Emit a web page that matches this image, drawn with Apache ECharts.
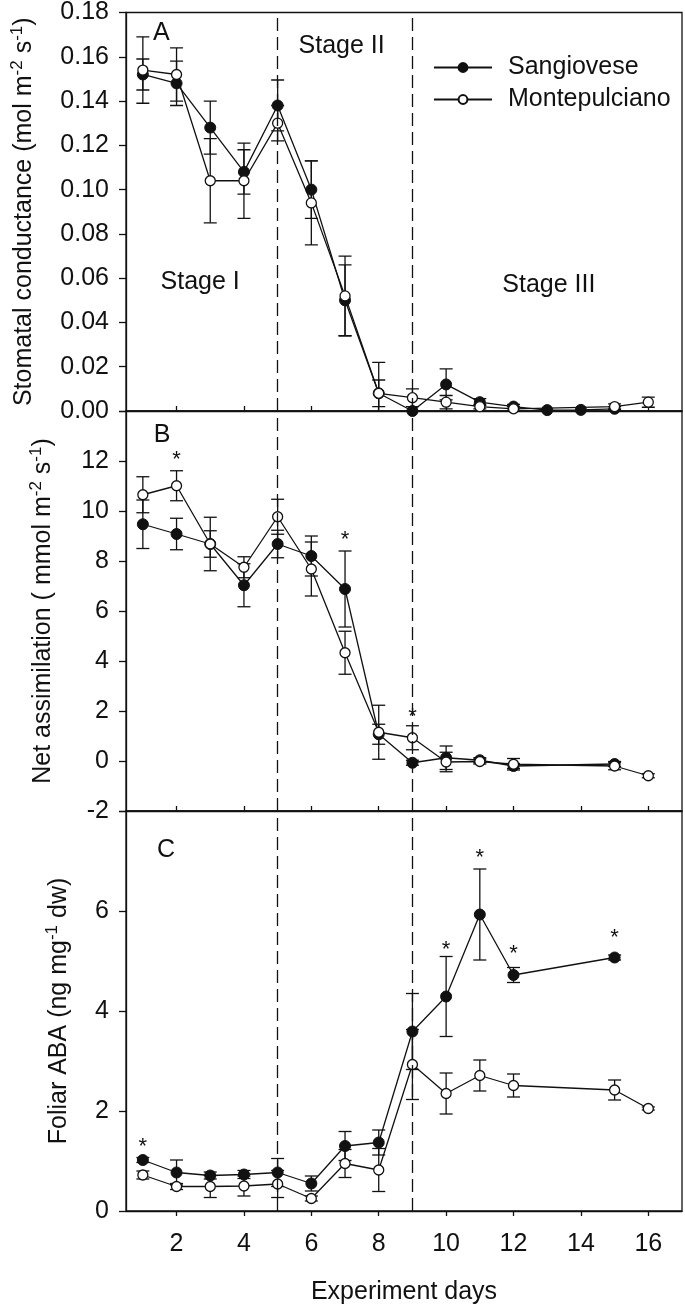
<!DOCTYPE html>
<html><head><meta charset="utf-8">
<script src="https://cdn.jsdelivr.net/npm/echarts@6/dist/echarts.min.js"></script>
<style>html,body{margin:0;padding:0;background:#fff}#c{width:685px;height:1313px}</style>
</head><body><div id="c"></div>
<script>
// ---------- data ----------
const days = [1,2,3,4,5,6,7,8,9,10,11,12,13,14,15,16];
const xTicks = [2,4,6,8,10,12,14,16];
const stageDays = [5, 9];

// Panel A: stomatal conductance (mol m-2 s-1)
const sangA   = [0.152,0.148,0.128,0.108,0.138,0.100,0.050,0.008,0.000,0.012,0.004,0.002,0.0004,0.0005,0.001,null];
const sangAse = [0.007,0.010,0.012,0.010,0.0115,0.013,0.016,0.006,0.000,0.007,0.0016,0.001,0,0,0.001,null];
const montA   = [0.154,0.152,0.104,0.104,0.130,0.094,0.052,0.008,0.006,0.004,0.002,0.001,null,null,0.002,0.004];
const montAse = [0.015,0.012,0.019,0.017,0.008,0.019,0.018,0.014,0.004,0.003,0.001,0.001,null,null,0.0012,0.0023];

// Panel B: net assimilation (mmol m-2 s-1)
const sangB   = [9.47,9.08,8.68,7.03,8.68,8.20,6.88,1.07,-0.07,0.13,0.03,-0.20,null,null,-0.12,null];
const sangBse = [0.97,0.63,0.53,0.86,0.55,0.80,1.52,0.40,0.10,0.47,0.10,0.10,null,null,0.10,null];
const montB   = [10.65,11.01,8.68,7.75,9.77,7.68,4.33,1.15,0.93,-0.04,-0.02,-0.13,null,null,-0.20,-0.59];
const montBse = [0.72,0.60,1.07,0.42,0.70,1.08,0.86,1.08,0.48,0.39,0.10,0.23,null,null,0.15,0.08];

// Panel C: foliar ABA (ng mg-1 dw)
const sangC   = [1.02,0.77,0.71,0.73,0.77,0.55,1.30,1.37,3.59,4.29,5.93,4.72,null,null,5.07,null];
const sangCse = [0.05,0.25,0.07,0.08,0.28,0.15,0.29,0.25,0.76,0.80,0.91,0.15,null,null,0.05,null];
const montC   = [0.72,0.49,0.49,0.50,0.54,0.25,0.95,0.82,2.93,2.35,2.71,2.51,null,null,2.42,2.05];
const montCse = [0.08,0.06,0.22,0.20,0.27,0.05,0.28,0.43,0.70,0.41,0.31,0.23,null,null,0.20,0.03];

// significance stars (day, value where the star sits)
const starsB = [[2,12.24],[7,9.04],[9,1.95]];
const starsC = [[1,1.38],[10,5.32],[11,7.17],[12,5.25],[15,5.57]];

// text annotations (day, value, text)
const notesA = [[2.7,0.058,'Stage I'],[6.9,0.1647,'Stage II'],[13.05,0.0567,'Stage III'],[1.55,0.1706,'A']];
const notesB = [[1.57,13.04,'B']];
const notesC = [[1.69,7.22,'C']];

// ---------- styling ----------
const FONT = '"Liberation Sans", Arial, Helvetica, sans-serif';
const INK = '#111';
const FS = 25;

function pts(vals){ const out=[]; days.forEach((d,i)=>{ if(vals[i]!=null) out.push([d, vals[i]]); }); return out; }
function errs(vals, se){ const out=[]; days.forEach((d,i)=>{ if(vals[i]!=null && se[i]) out.push([d, vals[i]-se[i], vals[i]+se[i]]); }); return out; }

function renderErr(params, api){
  const x = api.value(0), lo = api.value(1), hi = api.value(2);
  const a = api.coord([x, lo]), b = api.coord([x, hi]);
  const hw = 6.5;
  const style = {stroke: INK, lineWidth: 1.3, fill: null};
  return {type:'group', children:[
    {type:'line', shape:{x1:a[0], y1:a[1], x2:b[0], y2:b[1]}, style},
    {type:'line', shape:{x1:a[0]-hw, y1:a[1], x2:a[0]+hw, y2:a[1]}, style},
    {type:'line', shape:{x1:b[0]-hw, y1:b[1], x2:b[0]+hw, y2:b[1]}, style}
  ]};
}

const gridTops = [11, 411, 811];
const grids = gridTops.map(t => ({left:126, right:3, top:t, height:400, show:true, borderColor:INK, borderWidth:1.3, backgroundColor:'#fff'}));

const xAxes = [0,1,2].map(i => ({
  gridIndex:i, type:'value', min:0.5, max:17,
  axisLine:{show:true, onZero:false, lineStyle:{color:INK, width:1.3}},
  axisTick:{show:true, inside:i<2, length:5, customValues:xTicks, lineStyle:{color:INK, width:1.3}},
  axisLabel:{show:i===2, customValues:xTicks, margin:21, fontSize:FS, fontFamily:FONT, color:INK},
  splitLine:{show:false},
  name: i===2 ? 'Experiment days' : '',
  nameLocation:'middle', nameGap:69,
  nameTextStyle:{fontSize:FS, fontFamily:FONT, color:INK}
}));

const richName = {
  t:{fontSize:FS, fontFamily:FONT, color:INK, lineHeight:30},
  s:{fontSize:17, fontFamily:FONT, color:INK, lineHeight:17, verticalAlign:'top'}
};
function yAxis(i, min, max, interval, fmt, name, gap){
  return {
    gridIndex:i, type:'value', min, max, interval,
    axisLine:{show:true, onZero:false, lineStyle:{color:INK, width:1.3}},
    axisTick:{show:true, inside:false, length:7, lineStyle:{color:INK, width:1.3}},
    axisLabel:{formatter:fmt, margin:17, fontSize:FS, fontFamily:FONT, color:INK},
    splitLine:{show:false},
    name, nameLocation:'middle', nameGap:gap,
    nameTextStyle:{rich:richName}
  };
}
const yAxes = [
  yAxis(0, 0, 0.18, 0.02, v => v.toFixed(2), '{t|Stomatal conductance (mol m}{s|-2}{t| s}{s|-1}{t|)}', 87),
  yAxis(1, -2, 14, 2, v => v===14 ? '' : String(v), '{t|Net assimilation ( mmol m}{s|-2}{t| s}{s|-1}{t|)}', 68),
  yAxis(2, 0, 8, 2, v => v===8 ? '' : String(v), '{t|Foliar ABA (ng mg}{s|-1}{t| dw)}', 52)
];

const panels = [[sangA,sangAse,montA,montAse],[sangB,sangBse,montB,montBse],[sangC,sangCse,montC,montCse]];
const series = [];
panels.forEach((p,i) => {
  series.push({type:'custom', xAxisIndex:i, yAxisIndex:i, renderItem:renderErr, data:errs(p[0],p[1]), encode:{x:0,y:[1,2]}, clip:true, z:1, silent:true});
  series.push({type:'custom', xAxisIndex:i, yAxisIndex:i, renderItem:renderErr, data:errs(p[2],p[3]), encode:{x:0,y:[1,2]}, clip:true, z:1, silent:true});
  series.push({name:'Sangiovese', type:'line', xAxisIndex:i, yAxisIndex:i, data:pts(p[0]), z:3,
    symbol:'circle', symbolSize:11, showAllSymbol:true,
    itemStyle:{color:INK, borderColor:INK, borderWidth:1},
    lineStyle:{color:INK, width:1.3},
    markLine:{silent:true, symbol:['none','none'], label:{show:false}, animation:false,
      lineStyle:{color:INK, width:1.3, type:[13,6]}, data:stageDays.map(d=>({xAxis:d}))}
  });
  series.push({name:'Montepulciano', type:'line', xAxisIndex:i, yAxisIndex:i, data:pts(p[2]), z:4,
    symbol:'circle', symbolSize:10, showAllSymbol:true,
    itemStyle:{color:'#fff', borderColor:INK, borderWidth:1.3},
    lineStyle:{color:INK, width:1.3}
  });
});

function textSeries(i, arr, fs, dy){
  return {type:'custom', xAxisIndex:i, yAxisIndex:i, z:6, silent:true, clip:false,
    data: arr.map(a => [a[0], a[1], a[2] || '*']),
    encode:{x:0, y:1},
    renderItem: function(params, api){
      const c = api.coord([api.value(0), api.value(1)]);
      return {type:'text', x:c[0], y:c[1] + (dy||0),
        style:{text: arr[params.dataIndex][2] || '*', fill:INK, font: fs + 'px ' + FONT, align:'center', verticalAlign:'middle'}};
    }
  };
}
series.push(textSeries(0, notesA, FS));
series.push(textSeries(1, notesB, FS));
series.push(textSeries(2, notesC, FS));
series.push(textSeries(1, starsB, 22, 5));
series.push(textSeries(2, starsC, 22, 5));

const chart = echarts.init(document.getElementById('c'), null, {renderer:'canvas'});
chart.setOption({
  animation:false,
  backgroundColor:'#fff',
  grid:grids, xAxis:xAxes, yAxis:yAxes,
  legend:{data:['Sangiovese','Montepulciano'], orient:'vertical', left:433, top:55, padding:0,
    itemWidth:58, itemHeight:11, itemGap:7, selectedMode:false,
    textStyle:{fontSize:FS, fontFamily:FONT, color:INK, padding:[0,0,0,11]}},
  series
});
</script>
</body></html>
